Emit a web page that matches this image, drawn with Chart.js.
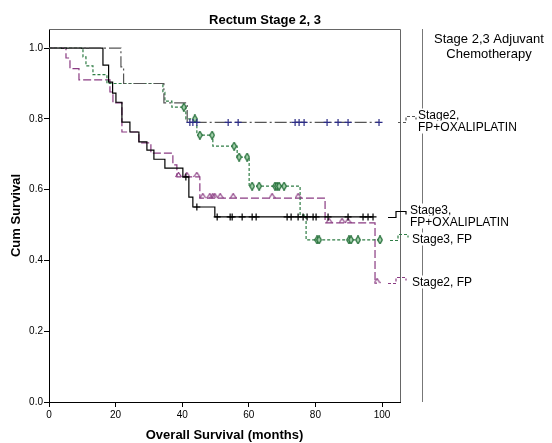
<!DOCTYPE html>
<html>
<head>
<meta charset="utf-8">
<script src="https://cdn.jsdelivr.net/npm/chart.js@4"></script>
<style>
  html, body { margin: 0; padding: 0; background: #fff; }
  #km { display: block; }
</style>
</head>
<body>
<canvas id="km" width="552" height="443"></canvas>
<script>
// =============================================
// DATA
// =============================================
const xTicks = [0, 20, 40, 60, 80, 100];
const yTicks = [0, 0.2, 0.4, 0.6, 0.8, 1.0];

// Stage2, FP+OXALIPLATIN
const s2oxTimes = [0, 21.6, 22.4, 34.5, 41.5];
const s2oxSurv  = [1.0, 0.947, 0.90, 0.845, 0.79];
const s2oxCens  = [42.3, 43.2, 44.4, 53.8, 56.8, 73.9, 75.1, 76.6, 83.5, 86.8, 89.8, 99.1];

// Stage3, FP+OXALIPLATIN
const s3oxTimes = [0, 16.2, 17.9, 19.1, 20.1, 21.9, 24.3, 27.0, 29.4, 31.5, 34.8, 40.2, 42.0, 43.2, 49.8];
const s3oxSurv  = [1.0, 0.952, 0.904, 0.873, 0.847, 0.791, 0.763, 0.735, 0.712, 0.686, 0.661, 0.636, 0.579, 0.551, 0.523];
const s3oxCens  = [41.1, 44.4, 50.5, 54.4, 55.0, 58.0, 61.0, 62.2, 71.5, 72.7, 74.8, 76.3, 77.5, 79.3, 80.2, 83.8, 89.8, 94.3, 95.8, 97.3];

// Stage3, FP
const s3fpTimes = [0, 10.2, 11.1, 13.2, 17.4, 34.2, 34.8, 36.9, 41.1, 44.4, 49.2, 56.5, 60.1, 75.4, 77.2];
const s3fpSurv  = [1.0, 0.975, 0.95, 0.925, 0.90, 0.875, 0.85, 0.833, 0.80, 0.754, 0.723, 0.692, 0.61, 0.528, 0.458];
const s3fpCens  = [40.5, 43.8, 45.3, 49.0, 55.6, 57.1, 59.5, 61.0, 63.1, 67.9, 68.5, 69.1, 70.6, 80.5, 81.1, 90.1, 90.7, 92.8, 99.4];

// Stage2, FP
const s2fpTimes = [0, 5.1, 6.3, 9.0, 18.3, 19.2, 21.9, 27.0, 30.6, 37.2, 38.4, 45.3, 82.9, 97.9];
const s2fpSurv  = [1.0, 0.972, 0.942, 0.91, 0.876, 0.845, 0.763, 0.732, 0.703, 0.67, 0.636, 0.576, 0.506, 0.336];
const s2fpCens  = [38.9, 41.4, 44.4, 46.2, 48.3, 49.2, 49.8, 51.4, 55.3, 67.0, 74.8, 84.1, 88.0, 89.8, 98.5];

const seriesLabels = [['Stage2,', 'FP+OXALIPLATIN'], ['Stage3,', 'FP+OXALIPLATIN'], ['Stage3, FP'], ['Stage2, FP']];

// =============================================
// HELPERS
// =============================================
const FONT = '"Liberation Sans", Arial, sans-serif';
Chart.defaults.font.family = FONT;
Chart.defaults.color = '#000';

function survAt(times, surv, t) {
    let s = surv[0];
    times.forEach((tt, i) => { if (tt <= t) s = surv[i]; });
    return s;
}

function curve(times, surv, cens) {
    const pts = times.map((t, i) => ({ x: t, y: surv[i] }));
    const end = Math.max(times[times.length - 1], ...cens);
    pts.push({ x: end, y: surv[surv.length - 1] });
    return pts;
}

function censored(times, surv, cens) {
    return cens.map(t => ({ x: t, y: survAt(times, surv, t) }));
}

function markCanvas(w, h, draw) {
    const c = document.createElement('canvas');
    c.width = w; c.height = h;
    draw(c.getContext('2d'));
    return c;
}

const diamond = markCanvas(6, 9, g => {
    g.beginPath();
    g.moveTo(3, 0.5); g.lineTo(5.3, 4.5); g.lineTo(3, 8.5); g.lineTo(0.7, 4.5); g.closePath();
    g.fillStyle = '#a6d3ae'; g.fill();
    g.strokeStyle = '#1d6a33'; g.lineWidth = 1.2; g.stroke();
});

// caret sits on top of the line, so the glyph fills the upper half only
const caret = markCanvas(7, 10, g => {
    g.beginPath();
    g.moveTo(0.5, 5); g.lineTo(3.5, 0.5); g.lineTo(6.5, 5);
    g.strokeStyle = '#8a3b82'; g.lineWidth = 1.2; g.stroke();
});

const styles = [
    { color: '#555555', dash: [12, 3, 2, 3], mark: 'cross', markColor: '#2c2c86', r: 3.5 },
    { color: '#000000', dash: [],            mark: 'cross', markColor: '#000000', r: 3.5 },
    { color: '#2f7d45', dash: [3, 2],        mark: diamond, markColor: '#1d6a33', r: 4 },
    { color: '#8a3b82', dash: [8, 3],        mark: caret,   markColor: '#8a3b82', r: 4 },
];

const groups = [
    [s2oxTimes, s2oxSurv, s2oxCens],
    [s3oxTimes, s3oxSurv, s3oxCens],
    [s3fpTimes, s3fpSurv, s3fpCens],
    [s2fpTimes, s2fpSurv, s2fpCens],
];

const datasets = [];
groups.forEach(([t, s, c], i) => {
    const st = styles[i];
    datasets.push({
        type: 'line',
        label: seriesLabels[i].join(' '),
        data: curve(t, s, c),
        stepped: true,
        borderColor: st.color,
        borderDash: st.dash,
        borderWidth: 1.2,
        pointRadius: 0,
        fill: false,
        order: 2,
    });
    datasets.push({
        type: 'scatter',
        data: censored(t, s, c),
        pointStyle: st.mark,
        pointRadius: st.r,
        pointBorderColor: st.markColor,
        pointBackgroundColor: st.markColor,
        pointBorderWidth: 1.2,
        order: 1,
    });
});

// =============================================
// PLUGIN — frame, titles and the side legend
// =============================================
const decorations = {
    id: 'decorations',
    beforeDatasetsDraw(chart) {
        const { ctx, chartArea: a } = chart;
        ctx.save();
        ctx.strokeStyle = '#666';
        ctx.lineWidth = 1;
        ctx.beginPath();
        ctx.moveTo(a.left, a.top + 0.5);
        ctx.lineTo(a.right + 0.5, a.top + 0.5);
        ctx.lineTo(a.right + 0.5, a.bottom);
        ctx.stroke();
        ctx.restore();
    },
    afterDraw(chart) {
        const { ctx, chartArea: a } = chart;
        const y = chart.scales.y;
        ctx.save();

        // legend box edge
        ctx.strokeStyle = '#777';
        ctx.lineWidth = 1;
        ctx.beginPath();
        ctx.moveTo(422.5, a.top);
        ctx.lineTo(422.5, a.bottom);
        ctx.stroke();

        // chart title
        ctx.fillStyle = '#000';
        ctx.textBaseline = 'middle';
        ctx.textAlign = 'center';
        ctx.font = 'bold 13px ' + FONT;
        ctx.fillText('Rectum Stage 2, 3', 265, 20);

        // legend title
        ctx.font = '13px ' + FONT;
        ['Stage 2,3 Adjuvant', 'Chemotherapy'].forEach((t, i) => {
            const w = ctx.measureText(t).width;
            ctx.fillStyle = '#fff';
            ctx.fillRect(489 - w / 2 - 1, 32 + i * 15, w + 2, 14);
            ctx.fillStyle = '#000';
            ctx.fillText(t, 489, 39 + i * 15);
        });

        // legend entries, set at the height where each curve ends
        const sampleX = [398, 388, 390, 388];
        const textX = [418, 410, 412, 412];
        ctx.font = '12px ' + FONT;
        ctx.textAlign = 'left';
        groups.forEach(([t, s], i) => {
            const py = Math.round(y.getPixelForValue(s[s.length - 1])) + 0.5;
            const st = styles[i];
            const lines = seriesLabels[i];
            const x0 = sampleX[i];
            ctx.strokeStyle = st.color;
            ctx.setLineDash(st.dash.length ? [3, 2] : []);
            ctx.lineWidth = 1.2;
            ctx.beginPath();
            ctx.moveTo(x0, py);
            ctx.lineTo(x0 + 8, py);
            ctx.lineTo(x0 + 8, py - 6);
            ctx.lineTo(x0 + 18, py - 6);
            ctx.lineTo(x0 + 18, py - 3);
            ctx.stroke();
            ctx.setLineDash([]);
            const top = lines.length > 1 ? py - 7 : py - 1;
            lines.forEach((ln, k) => {
                const w = ctx.measureText(ln).width;
                ctx.fillStyle = '#fff';
                ctx.fillRect(textX[i] - 1, top + k * 12 - 7, w + 2, 13);
                ctx.fillStyle = '#000';
                ctx.fillText(ln, textX[i], top + k * 12);
            });
        });
        ctx.restore();
    },
};

// =============================================
// CHART
// =============================================
new Chart(document.getElementById('km').getContext('2d'), {
    data: { datasets },
    options: {
        responsive: false,
        animation: false,
        layout: { padding: { top: 29, right: 152, left: 0, bottom: 0 } },
        plugins: { legend: { display: false }, tooltip: { enabled: false } },
        scales: {
            x: {
                type: 'linear',
                min: 0,
                max: 105.4,
                afterFit: s => { s.height = 41; },
                afterBuildTicks: s => { s.ticks = xTicks.map(v => ({ value: v })); },
                border: { display: true, color: '#000', width: 1 },
                grid: { drawOnChartArea: false, drawTicks: true, tickLength: 5, color: '#000' },
                ticks: { font: { size: 10 }, color: '#000', padding: 2, maxRotation: 0, callback: v => String(v) },
                title: { display: true, text: 'Overall Survival (months)', font: { size: 13, weight: 'bold' }, color: '#000', padding: { top: 0, bottom: 0 } },
            },
            y: {
                type: 'linear',
                min: 0,
                max: 1.054,
                afterFit: s => { s.width = 49; },
                afterBuildTicks: s => { s.ticks = yTicks.map(v => ({ value: v })); },
                border: { display: true, color: '#000', width: 1 },
                grid: { drawOnChartArea: false, drawTicks: true, tickLength: 5, color: '#000' },
                ticks: { font: { size: 10 }, color: '#000', padding: 1, callback: v => Number(v).toFixed(1) },
                title: { display: true, text: 'Cum Survival', font: { size: 13, weight: 'bold' }, color: '#000', padding: { top: 9, bottom: 0 } },
            },
        },
    },
    plugins: [decorations],
});
</script>
</body>
</html>
